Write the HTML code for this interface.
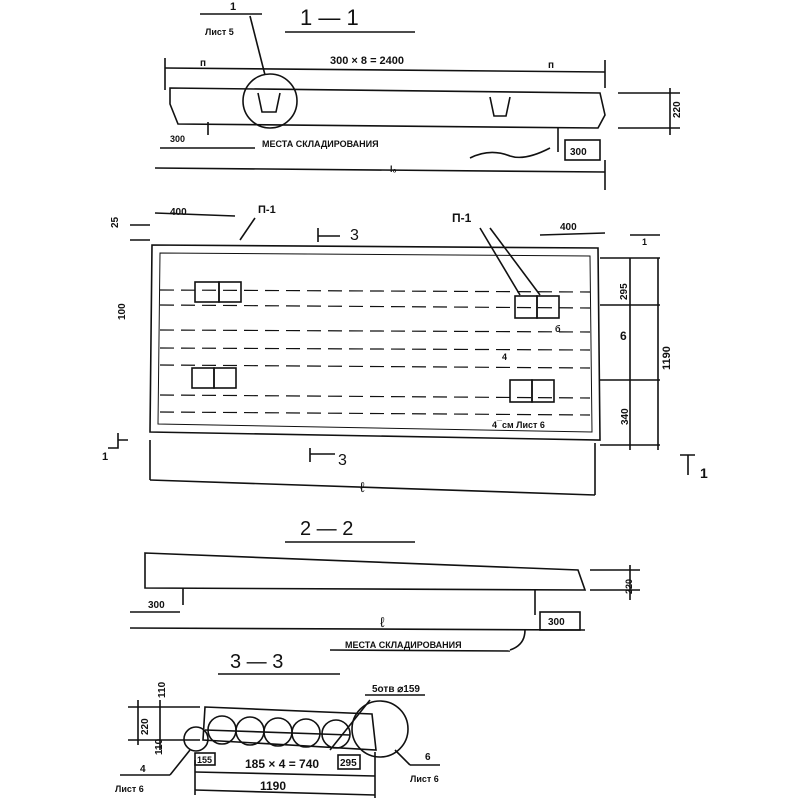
<!DOCTYPE html>
<html><head><meta charset="utf-8"><style>
html,body{margin:0;padding:0;background:#fff;}
svg{display:block}
text{font-family:"Liberation Sans","Noto Sans CJK SC",sans-serif;fill:#111;font-weight:bold}
text.n{font-weight:normal}
</style></head><body>
<svg width="800" height="800" viewBox="0 0 800 800" xmlns="http://www.w3.org/2000/svg" stroke="#111" fill="none" stroke-width="1.6">
<text class="n" x="300" y="25" font-size="22" stroke="none">1 — 1</text>
<line x1="285" y1="32" x2="415" y2="32"/>
<text x="230" y="10" font-size="11" stroke="none">1</text>
<line x1="200" y1="14" x2="262" y2="14"/>
<text x="205" y="35" font-size="9" stroke="none">Лист 5</text>
<line x1="250" y1="16" x2="265" y2="75"/>
<line x1="165" y1="68" x2="605" y2="72"/>
<line x1="165" y1="58" x2="165" y2="90"/><line x1="605" y1="60" x2="605" y2="88"/>
<text x="200" y="66" font-size="10" stroke="none">п</text>
<text x="330" y="64" font-size="11" stroke="none">300 × 8 = 2400</text>
<text x="548" y="68" font-size="10" stroke="none">п</text>
<path d="M170 88 L600 93 L605 115 L598 128 L178 124 L170 104 Z"/>
<circle cx="270" cy="101" r="27"/>
<path d="M258 93 L262 112 L276 112 L280 93"/>
<path d="M490 97 L494 116 L506 116 L510 97"/>
<line x1="208" y1="122" x2="208" y2="135"/>
<line x1="558" y1="128" x2="558" y2="152"/>
<text x="170" y="142" font-size="9" stroke="none">300</text>
<text x="262" y="147" font-size="9" stroke="none">МЕСТА   СКЛАДИРОВАНИЯ</text>
<path d="M470 158 q20 -10 40 -2 q15 5 40 -8"/>
<line x1="160" y1="148" x2="255" y2="148"/>
<rect x="565" y="140" width="35" height="20"/>
<text x="570" y="155" font-size="10" stroke="none">300</text>
<line x1="155" y1="168" x2="605" y2="172"/>
<line x1="605" y1="160" x2="605" y2="190"/>
<text x="390" y="172" font-size="9" stroke="none">l₀</text>
<line x1="618" y1="93" x2="680" y2="93"/><line x1="618" y1="128" x2="680" y2="128"/>
<line x1="670" y1="88" x2="670" y2="135"/>
<text x="680" y="118" font-size="10" stroke="none" transform="rotate(-90 680 118)">220</text>
<text x="118" y="228" font-size="10" stroke="none" transform="rotate(-90 118 228)">25</text>
<line x1="130" y1="225" x2="150" y2="225"/><line x1="130" y1="240" x2="150" y2="240"/>
<line x1="155" y1="213" x2="235" y2="216"/>
<text x="170" y="215" font-size="10" stroke="none">400</text>
<text x="258" y="213" font-size="11" stroke="none">П-1</text>
<line x1="255" y1="218" x2="240" y2="240"/>
<path d="M318 228 L318 242 M318 236 L340 236"/><text class="n" x="350" y="240" font-size="16" stroke="none">3</text>
<text x="452" y="222" font-size="12" stroke="none">П-1</text>
<line x1="480" y1="228" x2="520" y2="295"/><line x1="490" y1="228" x2="540" y2="295"/>
<line x1="540" y1="235" x2="605" y2="233"/><text x="560" y="230" font-size="10" stroke="none">400</text>
<path d="M152 245 L598 248 L600 440 L150 432 Z"/>
<path d="M160 253 L590 256 L592 432 L158 424 Z" stroke-width="1"/>
<g stroke-dasharray="14 7" stroke-width="1.2">
<line x1="160" y1="290" x2="590" y2="292"/><line x1="160" y1="305" x2="590" y2="308"/>
<line x1="160" y1="330" x2="590" y2="332"/><line x1="160" y1="348" x2="590" y2="350"/>
<line x1="160" y1="365" x2="590" y2="368"/><line x1="160" y1="395" x2="590" y2="398"/>
<line x1="160" y1="412" x2="590" y2="415"/>
</g>
<rect x="195" y="282" width="24" height="20"/><rect x="219" y="282" width="22" height="20"/>
<rect x="192" y="368" width="22" height="20"/><rect x="214" y="368" width="22" height="20"/>
<rect x="515" y="296" width="22" height="22"/><rect x="537" y="296" width="22" height="22"/>
<rect x="510" y="380" width="22" height="22"/><rect x="532" y="380" width="22" height="22"/>
<text x="555" y="332" font-size="9" stroke="none">б</text>
<text x="502" y="360" font-size="9" stroke="none">4</text>
<text x="492" y="428" font-size="9" stroke="none">4 ̅  см Лист 6</text>
<text x="125" y="320" font-size="10" stroke="none" transform="rotate(-90 125 320)">100</text>
<path d="M108 448 L118 448 L118 433 M118 440 L128 440"/><text x="102" y="460" font-size="11" stroke="none">1</text>
<path d="M310 448 L310 462 M310 454 L335 454"/><text class="n" x="338" y="465" font-size="16" stroke="none">3</text>
<line x1="150" y1="440" x2="150" y2="480"/><line x1="595" y1="443" x2="595" y2="495"/>
<line x1="150" y1="480" x2="595" y2="495"/>
<text class="n" x="360" y="492" font-size="14" stroke="none">ℓ</text>
<line x1="630" y1="235" x2="660" y2="235"/><line x1="600" y1="258" x2="660" y2="258"/>
<line x1="600" y1="305" x2="660" y2="305"/><line x1="600" y1="380" x2="660" y2="380"/>
<line x1="600" y1="445" x2="660" y2="445"/>
<line x1="630" y1="258" x2="630" y2="450"/><line x1="658" y1="258" x2="658" y2="450"/>
<text x="642" y="245" font-size="9" stroke="none">1</text>
<text x="627" y="300" font-size="10" stroke="none" transform="rotate(-90 627 300)">295</text>
<text x="620" y="340" font-size="12" stroke="none">6</text>
<text x="670" y="370" font-size="11" stroke="none" transform="rotate(-90 670 370)">1190</text>
<text x="628" y="425" font-size="10" stroke="none" transform="rotate(-90 628 425)">340</text>
<path d="M680 455 L695 455 M688 455 L688 475"/><text x="700" y="478" font-size="14" stroke="none">1</text>
<text class="n" x="300" y="535" font-size="20" stroke="none">2 — 2</text>
<line x1="285" y1="542" x2="415" y2="542"/>
<path d="M145 553 L578 570 L585 590 L145 588 Z"/>
<line x1="183" y1="588" x2="183" y2="605"/><line x1="535" y1="590" x2="535" y2="615"/>
<text x="148" y="608" font-size="10" stroke="none">300</text>
<line x1="130" y1="612" x2="180" y2="612"/>
<rect x="540" y="612" width="40" height="18"/><text x="548" y="625" font-size="10" stroke="none">300</text>
<line x1="130" y1="628" x2="585" y2="630"/>
<text class="n" x="380" y="627" font-size="14" stroke="none">ℓ</text>
<text x="345" y="648" font-size="9" stroke="none">МЕСТА   СКЛАДИРОВАНИЯ</text>
<line x1="330" y1="650" x2="510" y2="651"/>
<path d="M510 650 q15 -5 15 -20"/>
<line x1="590" y1="570" x2="640" y2="570"/><line x1="590" y1="590" x2="640" y2="590"/>
<line x1="630" y1="565" x2="630" y2="600"/>
<text x="632" y="594" font-size="9" stroke="none" transform="rotate(-90 632 594)">220</text>
<text class="n" x="230" y="668" font-size="20" stroke="none">3 — 3</text>
<line x1="218" y1="674" x2="340" y2="674"/>
<text x="165" y="698" font-size="10" stroke="none" transform="rotate(-90 165 698)">110</text>
<text x="148" y="735" font-size="10" stroke="none" transform="rotate(-90 148 735)">220</text>
<text x="162" y="755" font-size="10" stroke="none" transform="rotate(-90 162 755)">110</text>
<line x1="128" y1="707" x2="200" y2="707"/><line x1="128" y1="740" x2="200" y2="740"/>
<line x1="138" y1="700" x2="138" y2="745"/><line x1="160" y1="700" x2="160" y2="750"/>
<path d="M205 707 L372 714 L376 750 L203 740 Z"/>
<circle cx="196" cy="739" r="12"/><circle cx="380" cy="729" r="28"/>
<circle cx="222" cy="730" r="14"/><circle cx="250" cy="731" r="14"/><circle cx="278" cy="732" r="14"/>
<circle cx="306" cy="733" r="14"/><circle cx="336" cy="734" r="14"/>
<line x1="205" y1="730" x2="350" y2="735"/>
<line x1="330" y1="750" x2="370" y2="700"/>
<line x1="365" y1="695" x2="425" y2="695"/><text x="372" y="692" font-size="10" stroke="none">5отв ⌀159</text>
<text x="140" y="772" font-size="10" stroke="none">4</text>
<line x1="120" y1="775" x2="170" y2="775"/><line x1="170" y1="775" x2="190" y2="750"/>
<text x="115" y="792" font-size="9" stroke="none">Лист 6</text>
<rect x="195" y="753" width="20" height="12"/><text x="197" y="763" font-size="9" stroke="none">155</text>
<line x1="195" y1="772" x2="375" y2="776"/>
<text x="245" y="768" font-size="12" stroke="none">185 × 4 = 740</text>
<rect x="338" y="755" width="22" height="14"/><text x="340" y="766" font-size="10" stroke="none">295</text>
<line x1="395" y1="750" x2="410" y2="765"/><line x1="410" y1="765" x2="440" y2="765"/>
<text x="425" y="760" font-size="10" stroke="none">6</text>
<text x="410" y="782" font-size="9" stroke="none">Лист 6</text>
<line x1="195" y1="790" x2="375" y2="795"/>
<line x1="195" y1="760" x2="195" y2="795"/><line x1="375" y1="752" x2="375" y2="798"/>
<text x="260" y="790" font-size="12" stroke="none">1190</text>
</svg>
</body></html>
